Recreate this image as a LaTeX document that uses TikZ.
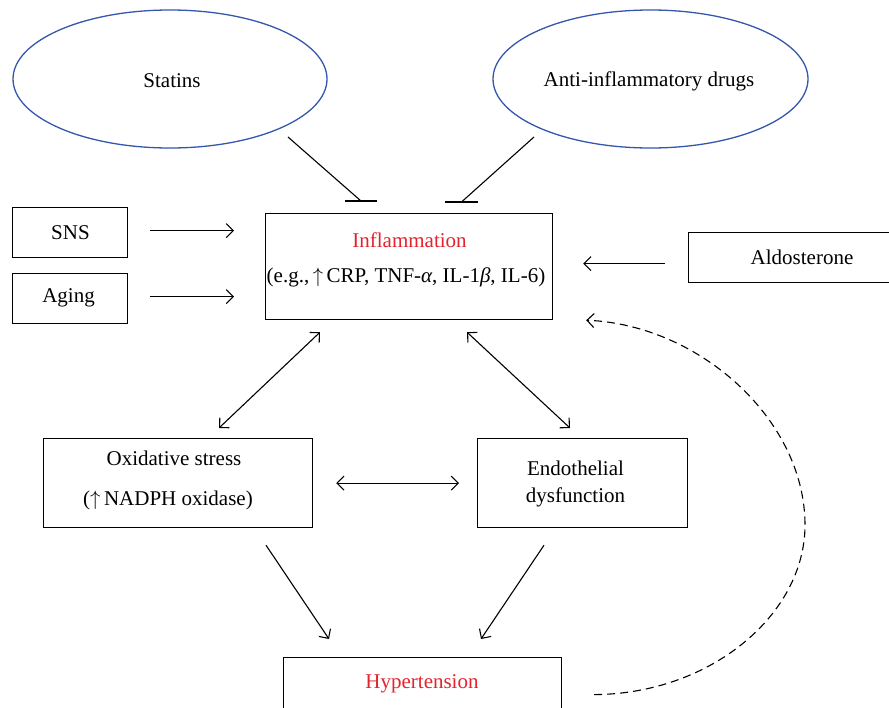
\documentclass[tikz,border=0pt]{standalone}
\usepackage{fontspec}
\setmainfont{Liberation Serif}
\usetikzlibrary{arrows.meta,shapes.geometric}
\definecolor{ellblue}{RGB}{52,86,172}
\definecolor{hired}{RGB}{226,35,45}
\begin{document}
\begin{tikzpicture}[x=1pt,y=-1pt,
  font=\fontsize{21}{25}\selectfont,
  box/.style={draw, line width=1.2pt, inner sep=0pt, anchor=north west},
  ell/.style={ellipse, draw=ellblue, line width=1.3pt, inner sep=0pt},
  txt/.style={anchor=base, inner sep=0pt},
  arr/.style={line width=1.1pt, -{Straight Barb[length=7pt,width=14pt]}},
  darr/.style={line width=1.1pt, {Straight Barb[length=7pt,width=14pt]}-{Straight Barb[length=7pt,width=14pt]}},
  inh/.style={line width=1.1pt},
  dasharr/.style={line width=1.1pt, dash pattern=on 8pt off 5pt, -{Straight Barb[length=7pt,width=14pt]}}]
\useasboundingbox (0,0) rectangle (889,707);
\clip (0,0) rectangle (889,707);

% ellipses
\node[ell, minimum width=314pt, minimum height=138pt] (statins) at (170,79) {};
\node[txt] (statinsT) at (172,87) {Statins};
\node[ell, minimum width=315pt, minimum height=138pt] (antiinf) at (650.5,79) {};
\node[txt] (antiinfT) at (649,86) {Anti-inflammatory drugs};

% boxes
\node[box, minimum width=115pt, minimum height=50pt] (sns) at (12,207) {};
\node[txt] (snsT) at (70.5,239) {SNS};
\node[box, minimum width=115pt, minimum height=50pt] (aging) at (12,273) {};
\node[txt] (agingT) at (68.5,302) {Aging};
\node[box, minimum width=287pt, minimum height=106pt] (infl) at (265,213) {};
\node[txt, text=hired] (inflT) at (409.5,247) {Inflammation};
\node[txt] (inflT2) at (406,282) {(e.g.,\,$\uparrow$\,CRP, TNF-{\itshape α}, IL-1{\itshape β}, IL-6)};
\node[box, minimum width=228pt, minimum height=50pt] (aldo) at (688,232) {};
\node[txt] (aldoT) at (802,264) {Aldosterone};
\node[box, minimum width=269pt, minimum height=89pt] (ox) at (43,438) {};
\node[txt] (oxT) at (174,465) {Oxidative stress};
\node[txt] (oxT2) at (168,505) {($\uparrow$\,NADPH oxidase)};
\node[box, minimum width=210pt, minimum height=89pt] (endo) at (477,438) {};
\node[txt] (endoT) at (575.5,475) {Endothelial};
\node[txt] (endoT2) at (575.5,502) {dysfunction};
\node[box, minimum width=278pt, minimum height=52pt] (hyp) at (283,657) {};
\node[txt, text=hired] (hypT) at (422,688) {Hypertension};

% inhibition
\coordinate (s1) at (288,137);
\coordinate (s2) at (361,201);
\coordinate (a1) at (534,137);
\coordinate (a2) at (461.5,202);
\draw[inh] (s1) -- (s2);
\draw[inh] ([xshift=-16pt]s2) -- ([xshift=16pt]s2);
\draw[inh] (a1) -- (a2);
\draw[inh] ([xshift=-16.5pt]a2) -- ([xshift=16.5pt]a2);

% arrows into inflammation
\draw[arr, shorten <=22pt, shorten >=31pt] ([yshift=2pt]sns.east) -- ([yshift=2pt]sns.east -| infl.west);
\draw[arr, shorten <=22pt, shorten >=31pt] ([yshift=2pt]aging.east) -- ([yshift=2pt]aging.east -| infl.west);
\draw[arr, shorten <=23pt, shorten >=30pt] ([yshift=-6pt]aldo.west) -- ([yshift=-6pt]aldo.west -| infl.east);

% double arrows
\draw[darr] ([xshift=55pt,yshift=-12pt]infl.south west) -- ([xshift=176pt,yshift=10pt]ox.north west);
\draw[darr] ([xshift=202pt,yshift=-12pt]infl.south west) -- ([xshift=93pt,yshift=10pt]endo.north west);
\draw[darr, shorten <=23pt, shorten >=18pt] (ox.east) -- (ox.east -| endo.west);

% to hypertension
\draw[arr] ([xshift=223pt,yshift=-17pt]ox.south west) -- ([xshift=46pt,yshift=18pt]hyp.north west);
\draw[arr] ([xshift=67pt,yshift=-17pt]endo.south west) -- ([xshift=198pt,yshift=18pt]hyp.north west);

% feedback
\draw[dasharr] ([xshift=32pt,yshift=-11pt]hyp.east) .. controls (710,694) and (805,615) .. (805,525)
  .. controls (805,420) and (700,325) .. ([xshift=33pt]infl.south east);
\end{tikzpicture}
\end{document}
